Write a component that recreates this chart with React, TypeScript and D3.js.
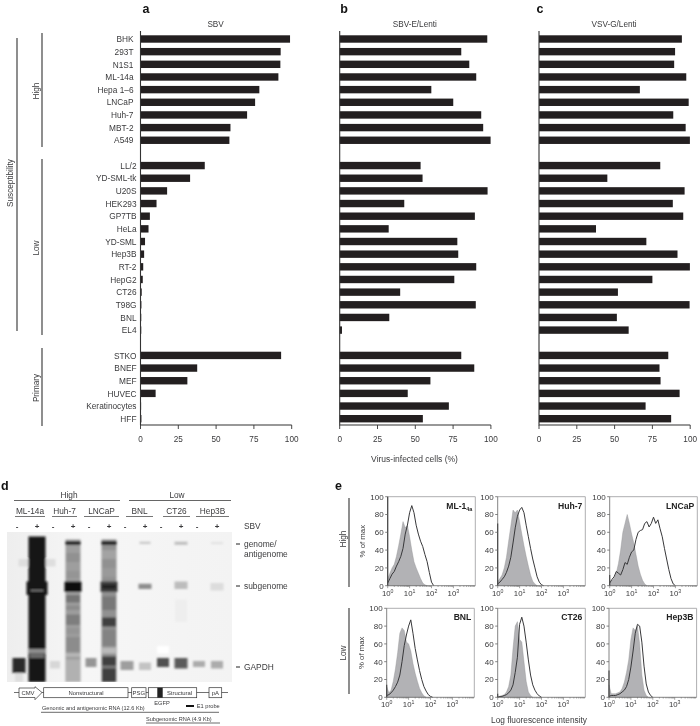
import React from 'react';
import * as d3 from 'd3';

const FONT = '"Liberation Sans", Arial, sans-serif';
const INK = '#3a3a3c';
const BAR = '#231f20';

const rowNames = ['BHK','293T','N1S1','ML-14a','Hepa 1–6','LNCaP','Huh-7','MBT-2','A549','gap1','LL/2','YD-SML-tk','U20S','HEK293','GP7TB','HeLa','YD-SML','Hep3B','RT-2','HepG2','CT26','T98G','BNL','EL4','gap2','STKO','BNEF','MEF','HUVEC','Keratinocytes','HFF'];
const sbv = [98.9,92.7,92.5,91.2,78.6,75.8,70.5,59.5,58.8,0,42.5,32.8,17.6,10.6,6.2,5.3,3,2.4,1.8,1.5,0.8,0.6,0.5,0.5,0,93,37.5,31,10,0.4,0.6];
const sbvLenti = [97.6,80.4,85.7,90.3,60.6,75.1,93.6,94.9,99.8,0,53.5,54.8,97.8,42.7,89.4,32.4,77.8,78.4,90.3,75.8,40,90,32.8,1.5,0,80.4,89,60,45,72.2,55];
const vsvLenti = [94.5,90,89.4,97.4,66.7,99,88.8,97,99.8,0,80.2,45.2,96.3,88.5,95.4,37.7,71,91.6,99.8,75,52.2,99.6,51.5,59.3,0,85.5,79.7,80.4,93,70.5,87.4];
const barTicks = [0,25,50,75,100];

const histLogX = [0,0.1,0.2,0.3,0.4,0.5,0.6,0.7,0.8,0.9,1,1.1,1.2,1.3,1.4,1.5,1.6,1.7,1.8,1.9,2,2.1,2.2,2.3,2.4,2.5,2.6,2.7,2.8,2.9,3];
const mlFilled = [8,14,20,24,33,45,58,72,65,68,55,40,27,20,14,8,3,1,0];
const mlOpen = [3,8,13,16,22,27,33,42,58,68,82,90,82,68,58,50,44,35,27,15,4,0];
const huhFilled = [5,8,12,20,32,50,67,85,82,85,72,58,45,33,22,12,5,2,0];
const huhOpen = [2,4,7,10,15,22,32,48,65,78,85,88,82,68,55,42,30,20,10,4,1,0];
const lncFilled = [4,6,8,14,25,40,60,70,80,70,58,48,35,22,13,6,2,0];
const lncOpen = [3,7,10,16,14,12,18,26,24,32,38,40,52,60,62,63,70,72,66,70,77,70,74,64,55,42,30,18,8,2,0];
const bnlFilled = [12,5,8,18,32,50,72,78,75,62,60,52,38,27,18,10,5,1.5,0];
const bnlOpen = [2,3,5,8,12,17,25,40,58,70,80,87,72,55,42,30,20,12,7,3,1,0];
const ctFilled = [1,1,2,3,6,12,25,55,80,85,65,62,40,18,6,2,0];
const ctOpen = [0,1,1,2,3,5,8,14,28,45,82,90,80,62,42,25,14,8,4,1.5,0];
const hepFilled = [14,4,4,4,5,6,10,17,28,42,65,78,75,80,60,25,8,2,0];
const hepOpen = [1,2,2,2,3,4,6,8,12,20,34,52,72,82,80,62,35,15,6,2,0];
const histNames = ['ML-1','Huh-7','LNCaP','BNL','CT26','Hep3B'];
const histFilled = [mlFilled,huhFilled,lncFilled,bnlFilled,ctFilled,hepFilled];
const histOpen = [mlOpen,huhOpen,lncOpen,bnlOpen,ctOpen,hepOpen];
const histEdge = [100,70,12,14,4,30];
const pctTicks = [0,20,40,60,80,100];
const decades = [1,10,100,1000];

const laneGroups = ['ML-14a','Huh-7','LNCaP','BNL','CT26','Hep3B'];
const laneSigns = ['-','+','-','+','-','+','-','+','-','+','-','+'];
// lane, migration start %, migration end %, band width, darkness
const blotBands: number[][] = [
  [1,18,23,37,0.1],[0,92,100,8,0.1],[0,84,94,13,0.88],
  [1,3,100,17,0.98],[1,33,42,21,0.98],[1,38.5,39.5,13,0.5],[1,78,81,16,0.45],[1,81,84,14,0.6],
  [2,86,91,10,0.13],
  [3,5,100,15,0.38],[3,14,20,14,0.44],[3,26,31,14,0.42],[3,42,47,14,0.56],[3,49,52,14,0.46],[3,55,62,14,0.52],[3,64,68,14,0.42],[3,70,80,14,0.46],[3,81,83,14,0.26],[3,85,100,14,0.3],[3,6.3,8.5,15,1],[3,33,40,17,1],
  [4,84,90,11,0.42],
  [5,5,100,15,0.44],[5,12,18,14,0.36],[5,24,30,14,0.4],[5,6.3,8.5,15,1],[5,33,40,17,0.8],[5,35,38,14,0.92],[5,43,52,14,0.55],[5,57,63,14,0.8],[5,65,76,14,0.5],[5,77,81,16,0.26],[5,83,100,14,0.8],[5,89,91,14,0.55],
  [6,86,92,13,0.38],[7,87,92,12,0.22],[7,6.5,8,11,0.2],[7,34.5,38,13,0.45],
  [8,76,81,12,-0.1],[8,84,90,12,0.72],[9,84,91,13,0.68],[9,6.5,8.5,13,0.25],[9,33,38,13,0.25],[9,45,60,12,0.03],
  [10,86,90,12,0.32],[11,86,91,12,0.32],[11,6.8,8,12,0.1],[11,34,39,13,0.11],
];

const txt = (x: number, y: number, s: React.ReactNode, size = 8.3, extra: any = {}) => (
  <text x={x} y={y} fontSize={size} fontFamily={FONT} fill={INK} {...extra}>{s}</text>
);
const vtxt = (x: number, y: number, s: string, size = 8.3) => (
  <text transform={`translate(${x},${y}) rotate(-90)`} textAnchor="middle" fontSize={size} fontFamily={FONT} fill={INK}>{s}</text>
);

const rowY = d3.scalePoint<string>().domain(rowNames).range([39, 418.7]);

function BarPanel({ x0, values, title, letter, letterX }: any) {
  const x = d3.scaleLinear().domain([0, 100]).range([x0, x0 + 151.2]);
  return (
    <g>
      <text x={letterX} y={13} fontSize={12.5} fontWeight="bold" fontFamily={FONT} fill="#111" textAnchor="middle">{letter}</text>
      {txt(x(50) - 0.5, 27, title, 8.2, { textAnchor: 'middle' })}
      {rowNames.map((n, i) => values[i] > 0 && (
        <rect key={n} x={x(0)} y={rowY(n)! - 3.7} width={x(values[i]) - x(0)} height={7.4} fill={BAR} />
      ))}
      <path d={`M${x(0)},31V425H${x(100)}`} fill="none" stroke="#333" strokeWidth={1.1} />
      {barTicks.map(t => (
        <g key={t}>
          <line x1={x(t)} x2={x(t)} y1={425} y2={429} stroke="#333" strokeWidth={0.9} />
          {txt(x(t), 441.8, t, 8.2, { textAnchor: 'middle' })}
        </g>
      ))}
    </g>
  );
}

function Hist({ idx, left, top }: any) {
  const w = 87.6, h = 89;
  const x = d3.scaleLog().domain([1, 10000]).range([left, left + w]);
  const y = d3.scaleLinear().domain([0, 100]).range([top + h, top]);
  const pts = (arr: number[]) => arr.map((v, i) => [Math.pow(10, histLogX[i]), v] as [number, number]);
  const area = d3.area<[number, number]>().x(d => x(d[0])).y0(y(0)).y1(d => y(d[1]));
  const line = d3.line<[number, number]>().x(d => x(d[0])).y(d => y(d[1]));
  const xTicks = x.ticks().filter(t => t < 10000);
  return (
    <g>
      <path d={area(pts(histFilled[idx]))!} fill="#b2b2b5" stroke="#8f8f92" strokeWidth={0.4} />
      <path d={line(pts(histOpen[idx]))!} fill="none" stroke="#38383a" strokeWidth={1} />
      <path d={`M${left},${top}H${left + w}V${top + h}`} fill="none" stroke="#a5a5a8" strokeWidth={0.9} />
      <path d={`M${left},${top}V${top + h}H${left + w}`} fill="none" stroke="#777" strokeWidth={0.9} />
      <line x1={left} x2={left} y1={y(0)} y2={y(histEdge[idx])} stroke="#444" strokeWidth={1.1} />
      {pctTicks.map(t => (
        <g key={t}>
          <line x1={left - 2.5} x2={left} y1={y(t)} y2={y(t)} stroke="#666" strokeWidth={0.8} />
          {txt(left - 4, y(t) + 2.9, t, 8, { textAnchor: 'end' })}
        </g>
      ))}
      {xTicks.map(t => (
        <line key={t} x1={x(t)} x2={x(t)} y1={top + h} y2={top + h + (decades.includes(t) ? 2.5 : 1.2)} stroke="#666" strokeWidth={0.6} />
      ))}
      {decades.map(t => (
        <text key={t} x={x(t)} y={top + h + 9.8} fontSize={7.8} fontFamily={FONT} fill={INK} textAnchor="middle">
          10<tspan fontSize={5.2} dy={-3}>{Math.round(Math.log10(t))}</tspan>
        </text>
      ))}
      <text x={left + w - 3} y={top + 11.8} textAnchor="end" fontSize={8.6} fontWeight="bold" fontFamily={FONT} fill="#222">
        {histNames[idx]}{idx === 0 && <tspan fontSize={5.4} dy={2}>4a</tspan>}
      </text>
      {idx % 3 === 0 && vtxt(left - 23, top + h / 2, '% of max', 7.8)}
    </g>
  );
}

function Blot() {
  const lane = d3.scalePoint<number>().domain(d3.range(12)).range([19, 217]);
  const mig = d3.scaleLinear().domain([0, 100]).range([532, 682]);
  const ink = d3.scaleLinear<string>().domain([0, 1]).range(['#f5f5f5', '#111111']);
  return (
    <g>
      <defs>
        <filter id="blotBlur" x="-20%" y="-20%" width="140%" height="140%"><feGaussianBlur stdDeviation="1.3" /></filter>
        <clipPath id="blotClip"><rect x={7} y={532} width={225} height={150} /></clipPath>
        <linearGradient id="blotBg" x1="0" x2="1" y1="0" y2="0">
          <stop offset="0" stopColor="#eeeeee" /><stop offset="0.35" stopColor="#f6f6f6" /><stop offset="1" stopColor="#f3f3f3" />
        </linearGradient>
      </defs>
      <rect x={7} y={532} width={225} height={150} fill="url(#blotBg)" />
      <g clipPath="url(#blotClip)"><g filter="url(#blotBlur)">
        {blotBands.map((b, i) => (
          <rect key={i} x={lane(b[0])! - b[3] / 2} y={mig(b[1])} width={b[3]} height={mig(b[2]) - mig(b[1])} fill={ink(b[4])} />
        ))}
      </g></g>
      {laneSigns.map((s, i) => txt(lane(i)! - (s === '-' ? 2 : 0), 529, s, 8, { key: i, textAnchor: 'middle', fontWeight: 'bold' }))}
    </g>
  );
}

const laneLabelSpans = [[15,45],[52,77],[84,119],[126,153],[163,190],[196,229]];

export default function App() {
  const flowLeft = [387.7, 497.7, 609.7, 386.7, 497.7, 609];
  const flowTop = [496.7, 496.7, 496.7, 608.3, 608.3, 608.3];
  return (
    <svg width={700} height={726} viewBox="0 0 700 726" style={{ position: 'absolute', left: 0, top: 0, background: '#fff', filter: 'blur(0.35px)' }}>
      <g stroke="#444" strokeWidth={1.2}>
        <line x1={17} x2={17} y1={38} y2={331} />
        <line x1={42} x2={42} y1={33} y2={147} />
        <line x1={42} x2={42} y1={159} y2={335} />
        <line x1={42} x2={42} y1={348} y2={426} />
      </g>
      {vtxt(12.5, 183, 'Susceptibility', 8.2)}
      {vtxt(39, 91, 'High', 8.2)}
      {vtxt(39, 248, 'Low', 8.2)}
      {vtxt(39, 388, 'Primary', 8.2)}
      {rowNames.map((n, i) => !n.startsWith('gap') && txt(i < 9 ? 133.5 : 136.5, rowY(n)! + 3.2, n, 8.3, { key: n, textAnchor: 'end' }))}

      <BarPanel x0={140.5} values={sbv} title="SBV" letter="a" letterX={146} />
      <BarPanel x0={339.7} values={sbvLenti} title="SBV-E/Lenti" letter="b" letterX={344} />
      <BarPanel x0={539} values={vsvLenti} title="VSV-G/Lenti" letter="c" letterX={540} />
      {txt(414.5, 462, 'Virus-infected cells (%)', 8.5, { textAnchor: 'middle' })}

      <text x={1} y={490} fontSize={12.5} fontWeight="bold" fontFamily={FONT} fill="#111">d</text>
      {txt(69, 498, 'High', 8.3, { textAnchor: 'middle' })}
      {txt(177, 498, 'Low', 8.3, { textAnchor: 'middle' })}
      <g stroke="#555" strokeWidth={0.9}>
        <line x1={14} x2={120} y1={500.5} y2={500.5} />
        <line x1={129} x2={231} y1={500.5} y2={500.5} />
      </g>
      {laneGroups.map((n, i) => (
        <g key={n}>
          {txt((laneLabelSpans[i][0] + laneLabelSpans[i][1]) / 2, 513.5, n, 8.3, { textAnchor: 'middle' })}
          <line x1={laneLabelSpans[i][0]} x2={laneLabelSpans[i][1]} y1={516.5} y2={516.5} stroke="#666" strokeWidth={0.9} />
        </g>
      ))}
      <Blot />
      {txt(244, 529, 'SBV', 8.3)}
      <g stroke="#222" strokeWidth={1}>
        <line x1={236} x2={240} y1={544} y2={544} />
        <line x1={236} x2={240} y1={586} y2={586} />
        <line x1={236} x2={240} y1={667} y2={667} />
      </g>
      {txt(244, 546.5, 'genome/', 8.4)}
      {txt(244, 556.5, 'antigenome', 8.4)}
      {txt(244, 589, 'subgenome', 8.4)}
      {txt(244, 670, 'GAPDH', 8.4)}

      <g fill="#fff" stroke="#333" strokeWidth={0.7}>
        <path d="M14,692.5H228" fill="none" />
        <path d="M19,688H35V686.7L42,692.5L35,699.7V697.5H19Z" />
        <rect x={43.7} y={687.7} width={84.3} height={10} />
        <rect x={131.7} y={687.7} width={14.3} height={10} />
        <rect x={148.3} y={687.7} width={48.4} height={10} />
        <rect x={209} y={687.7} width={12.7} height={10} />
      </g>
      <rect x={157.3} y={687.7} width={5.4} height={10} fill="#222" />
      {txt(28, 695, 'CMV', 5.9, { textAnchor: 'middle' })}
      {txt(86, 695, 'Nonstructural', 5.9, { textAnchor: 'middle' })}
      {txt(138.8, 695, 'PSG', 5.9, { textAnchor: 'middle' })}
      {txt(179.5, 695, 'Structural', 5.9, { textAnchor: 'middle' })}
      {txt(215.3, 695, 'pA', 5.9, { textAnchor: 'middle' })}
      {txt(162, 704.5, 'EGFP', 5.7, { textAnchor: 'middle' })}
      <rect x={186} y={705} width={8} height={2} fill="#111" />
      {txt(196.7, 708.3, 'E1 probe', 5.7)}
      {txt(42, 709.5, 'Genomic and antigenomic RNA (12.6 Kb)', 5.6)}
      <line x1={41} x2={219} y1={712.3} y2={712.3} stroke="#444" strokeWidth={0.8} />
      {txt(146, 720.8, 'Subgenomic RNA (4.9 Kb)', 5.6)}
      <line x1={146} x2={220} y1={723} y2={723} stroke="#444" strokeWidth={0.8} />

      <text x={335} y={490} fontSize={12.5} fontWeight="bold" fontFamily={FONT} fill="#111">e</text>
      <g stroke="#444" strokeWidth={1.2}>
        <line x1={349} x2={349} y1={498} y2={587} />
        <line x1={349} x2={349} y1={608} y2={694} />
      </g>
      {vtxt(346, 539, 'High', 8.2)}
      {vtxt(346, 653, 'Low', 8.2)}
      {histNames.map((n, i) => <Hist key={n} idx={i} left={flowLeft[i]} top={flowTop[i]} />)}
      {txt(539, 723, 'Log fluorescence intensity', 8.3, { textAnchor: 'middle' })}
    </svg>
  );
}
